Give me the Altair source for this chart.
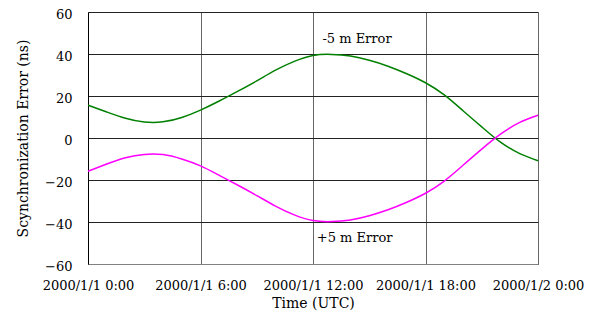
import altair as alt
import pandas as pd

hours = list(range(25))
minus5 = [15.6, 12.4, 9.4, 7.6, 7.7, 9.8, 13.3, 17.6, 22.3, 27.2, 32.3, 36.5, 39.3,
          39.8, 39.0, 37.0, 34.2, 30.6, 26.3, 20.5, 13.0, 5.3, -2.0, -7.3, -10.8]
plus5 = [-15.8, -12.4, -9.4, -7.8, -7.9, -10.0, -13.3, -17.8, -22.5, -27.4, -32.4, -36.6, -39.3,
         -39.8, -39.0, -37.0, -34.2, -30.6, -26.3, -20.5, -13.0, -5.3, 1.8, 7.3, 10.8]
series_names = ["-5 m Error", "+5 m Error"]
tick_hours = [0, 6, 12, 18, 24]
tick_labels = ["2000/1/1 0:00", "2000/1/1 6:00", "2000/1/1 12:00", "2000/1/1 18:00", "2000/1/2 0:00"]
y_ticks = [-60, -40, -20, 0, 20, 40, 60]

rows = []
for h, a, b in zip(hours, minus5, plus5):
    rows.append({"h": h, "v": a, "s": series_names[0]})
    rows.append({"h": h, "v": b, "s": series_names[1]})
df = pd.DataFrame(rows)

label_js = "[" + ",".join("'" + t + "'" for t in tick_labels) + "][datum.value/6]"
FONT = "DejaVu Serif"

x = alt.X("h:Q", scale=alt.Scale(domain=[0, 24], nice=False),
          axis=alt.Axis(values=tick_hours, labelExpr=label_js, title="Time (UTC)",
                        grid=True, gridColor="#666666", ticks=False, labelPadding=15,
                        labelFont=FONT, labelFontSize=13, labelColor="#000",
                        titleFont=FONT, titleFontSize=14, titleFontWeight="normal",
                        titleColor="#000", titlePadding=4, domainColor="#808080",
                        labelFlush=False))
y = alt.Y("v:Q", scale=alt.Scale(domain=[-60, 60], nice=False),
          axis=alt.Axis(values=y_ticks, title="Scynchronization Error (ns)", grid=True,
                        gridColor="#222222", ticks=False, labelPadding=16, labelOffset=2,
                        labelFont=FONT, labelFontSize=13, labelColor="#000",
                        titleFont=FONT, titleFontSize=14, titleFontWeight="normal",
                        titleColor="#000", titlePadding=14, domainColor="#000"))

lines = alt.Chart(df).mark_line(strokeWidth=1.5, interpolate="natural").encode(
    x=x, y=y,
    color=alt.Color("s:N", scale=alt.Scale(domain=series_names, range=["#008000", "#ff00ff"]),
                    legend=None),
)

ann = pd.DataFrame({"h": [12.5, 12.2], "v": [47, -47.5], "t": series_names})
text = alt.Chart(ann).mark_text(align="left", baseline="middle", font=FONT, fontSize=13,
                                color="#000").encode(
    x="h:Q", y="v:Q", text="t:N")

chart = alt.layer(lines, text).properties(
    width=450, height=252,
    autosize=alt.AutoSizeParams(type="none"),
    padding={"left": 80, "top": 4, "right": 50, "bottom": 46},
).configure_view(stroke="#808080", strokeWidth=1.5).configure(background="white")

chart.save("out.html", embed_options={"renderer": "svg", "actions": False})
